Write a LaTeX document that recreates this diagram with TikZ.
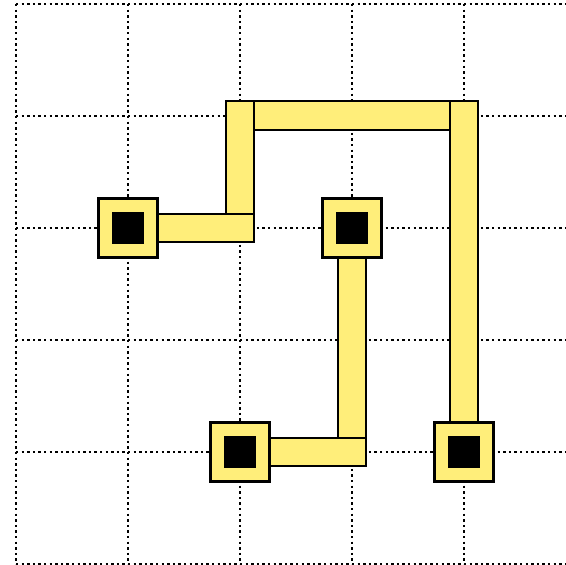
\documentclass[tikz,border=0pt]{standalone}
\usetikzlibrary{calc}
\definecolor{padyellow}{RGB}{255,238,122}
\tikzset{
  gridline/.style={line width=2.4pt, dash pattern=on 2.4pt off 3.2pt, black},
  trace/.style={fill=padyellow, draw=black, line width=2.8pt},
  pad/.style={rectangle, fill=padyellow, draw=black, line width=3pt,
    minimum size=59pt, inner sep=0pt,
    path picture={\fill[black] ($(path picture bounding box.center)+(-16,-16)$) rectangle ($(path picture bounding box.center)+(16,16)$);}},
}
\begin{document}
\begin{tikzpicture}[x=1pt,y=-1pt]
\useasboundingbox (0,0) rectangle (566,565);
% grid
\foreach \gx in {16,128,240,352,464} \draw[gridline] (\gx,4) -- (\gx,564);
\foreach \gy in {4,116,228,340,452,564} \draw[gridline] (16,\gy) -- (570,\gy);
% positions
\coordinate (pa) at (128,228);
\coordinate (pb) at (352,228);
\coordinate (pc) at (240,452);
\coordinate (pd) at (464,452);
\coordinate (c1) at (240,228);
\coordinate (c2) at (240,116);
\coordinate (c3) at (464,116);
\coordinate (c4) at (352,452);
% traces
\draw[trace] ($(c2)+(-14,-15)$) rectangle ($(c3)+(14,14)$);
\draw[trace] ($(c2)+(-14,-15)$) rectangle ($(c1)+(14,14)$);
\draw[trace] ($(c3)+(-14,-15)$) rectangle ($(pd)+(14,0)$);
\draw[trace] ($(pa)+(0,-14)$) rectangle ($(c1)+(14,14)$);
\draw[trace] ($(pb)+(-14,0)$) rectangle ($(c4)+(14,14)$);
\draw[trace] ($(pc)+(0,-14)$) rectangle ($(c4)+(14,14)$);
% pads
\node[pad] (padA) at (pa) {};
\node[pad] (padB) at (pb) {};
\node[pad] (padC) at (pc) {};
\node[pad] (padD) at (pd) {};
\end{tikzpicture}
\end{document}
